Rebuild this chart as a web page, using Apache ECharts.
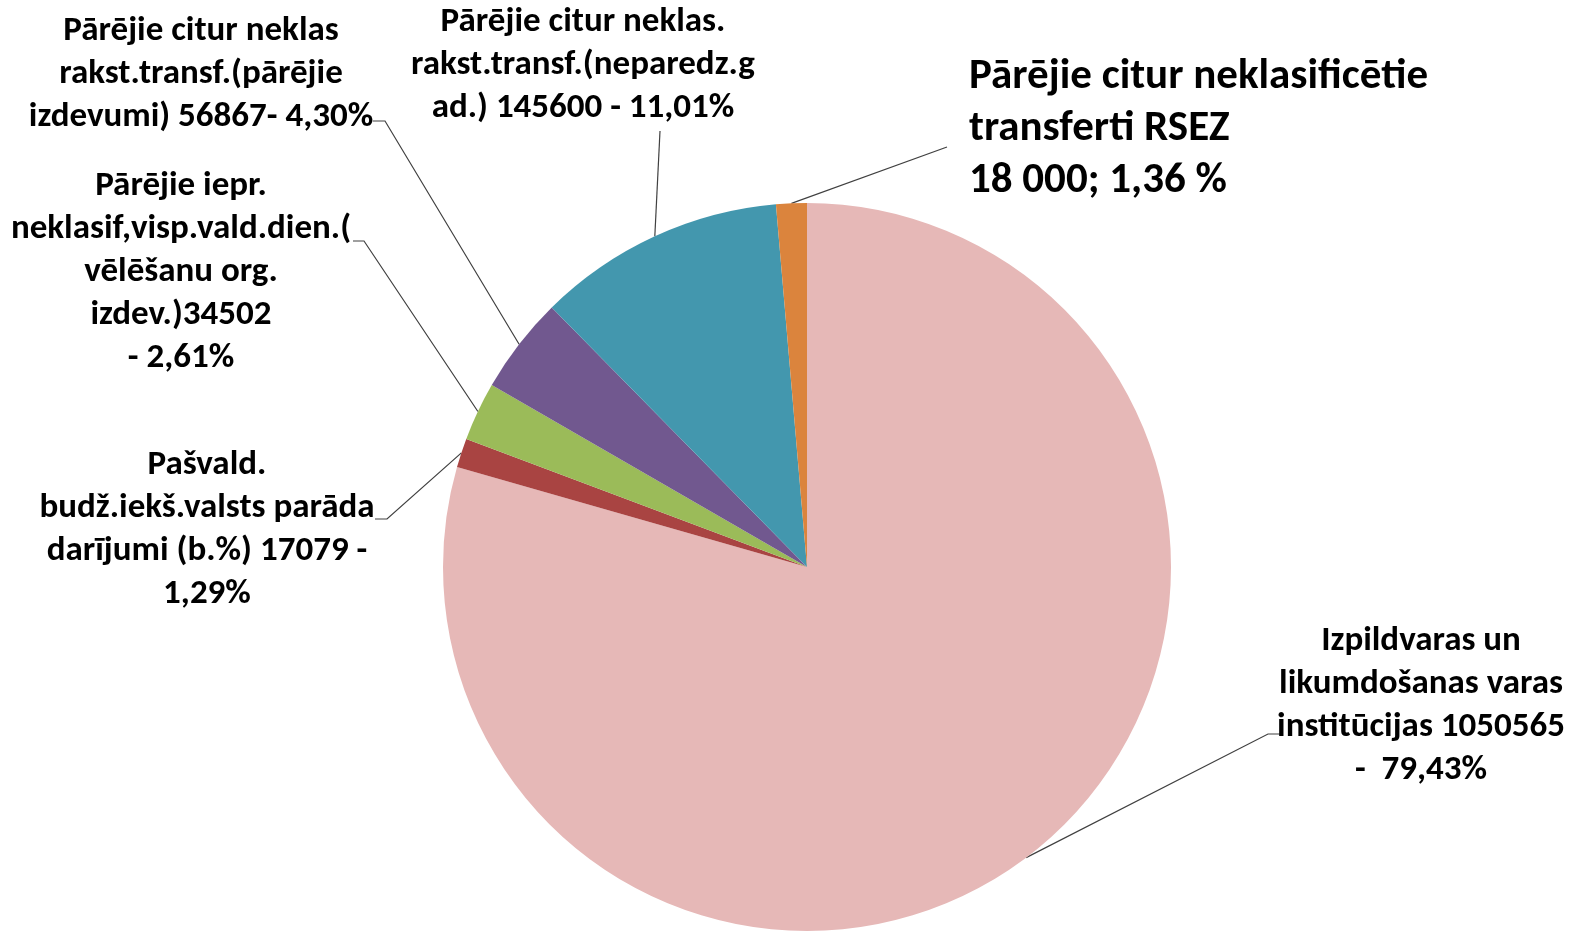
<!DOCTYPE html>
<html>
<head>
<meta charset="utf-8">
<script src="https://cdn.jsdelivr.net/npm/echarts@6/dist/echarts.min.js"></script>
<style>
  html, body { margin: 0; padding: 0; background: #fff; }
  #chart { width: 1575px; height: 937px; }
</style>
</head>
<body>
<div id="chart"></div>
<script>
// slices, clockwise from 12 o'clock
var names = [
  'Izpildvaras un likumdošanas varas institūcijas',
  'Pašvald. budž.iekš.valsts parāda darījumi (b.%)',
  'Pārējie iepr. neklasif,visp.vald.dien.(vēlēšanu org. izdev.)',
  'Pārējie citur neklas rakst.transf.(pārējie izdevumi)',
  'Pārējie citur neklas. rakst.transf.(neparedz.g ad.)',
  'Pārējie citur neklasificētie transferti RSEZ'
]
var values = [1050565, 17079, 34502, 56867, 145600, 18000]
var labelTexts = [
  'Izpildvaras un\nlikumdošanas varas\ninstitūcijas 1050565\n-  79,43%',
  'Pašvald.\nbudž.iekš.valsts parāda\ndarījumi (b.%) 17079 -\n1,29%',
  'Pārējie iepr.\nneklasif,visp.vald.dien.(\nvēlēšanu org.\nizdev.)34502\n- 2,61%',
  'Pārējie citur neklas\nrakst.transf.(pārējie\nizdevumi) 56867- 4,30%',
  'Pārējie citur neklas.\nrakst.transf.(neparedz.g\nad.) 145600 - 11,01%',
  'Pārējie citur neklasificētie\ntransferti RSEZ\n18 000; 1,36 %'
]
var colors = ['#E6B8B7', '#A94442', '#9BBB59', '#71588F', '#4397AE', '#DB843D']

// label placement (x, y of text block, align) and leader line bends
var labelPos = [
  { x: 1421, y: 620, align: 'center', line: [[1268, 734], [1281, 734]] },
  { x: 207, y: 444, align: 'center', line: [[387, 519], [375, 519]] },
  { x: 181, y: 165, align: 'center', line: [[364, 241], [353, 241]] },
  { x: 201, y: 10, align: 'center', line: [[385, 121], [373, 121]] },
  { x: 583, y: 1, align: 'center', line: [[660, 131]] },
  { x: 969, y: 51, align: 'left', line: [[947, 147]] }
]

var cx = 807, cy = 567, radius = 364
var total = values.reduce(function (a, b) { return a + b }, 0)

var font = 'Carlito, Lato, "Open Sans", sans-serif'

var myChart = echarts.init(document.getElementById('chart'))
myChart.setOption({
  backgroundColor: '#fff',
  animation: false,
  color: colors,
  series: [{
    type: 'pie',
    center: [cx, cy],
    radius: radius,
    startAngle: 90,
    clockwise: true,
    avoidLabelOverlap: false,
    itemStyle: { borderWidth: 0 },
    label: {
      show: true,
      position: 'outside',
      color: '#000',
      fontFamily: font,
      fontWeight: 'bold',
      fontSize: 35,
      lineHeight: 43,
      formatter: function (p) { return labelTexts[p.dataIndex] }
    },
    labelLine: {
      show: true,
      length: 10,
      length2: 10,
      lineStyle: { color: '#404040', width: 1.2 }
    },
    labelLayout: function (params) {
      var i = params.dataIndex
      var pos = labelPos[i]
      var anchor
      if (params.labelLinePoints && params.labelLinePoints[0]) {
        anchor = params.labelLinePoints[0]
      } else {
        var before = 0
        for (var k = 0; k < i; k++) before += values[k]
        var mid = (before + values[i] / 2) / total * Math.PI * 2
        anchor = [cx + radius * Math.sin(mid), cy - radius * Math.cos(mid)]
      }
      return {
        x: pos.x,
        y: pos.y,
        align: pos.align,
        verticalAlign: 'top',
        labelLinePoints: [anchor].concat(pos.line)
      }
    },
    data: names.map(function (n, i) {
      var d = { name: n, value: values[i] }
      if (i === 5) {
        d.label = { align: 'left', fontSize: 43, lineHeight: 52 }
      }
      return d
    })
  }]
})
</script>
</body>
</html>
